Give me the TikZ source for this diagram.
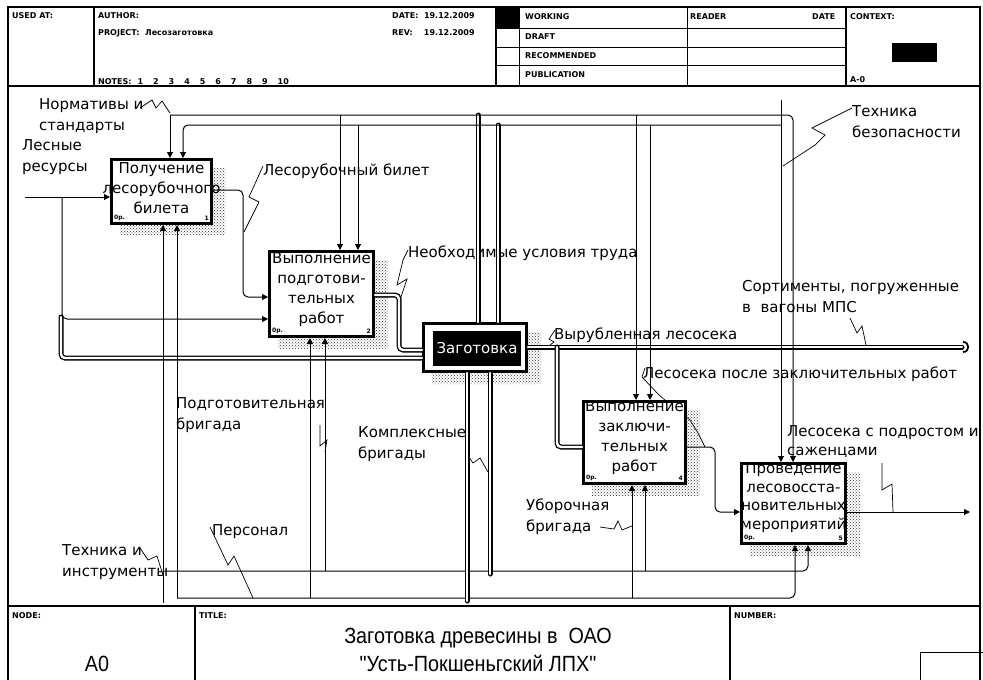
\documentclass[tikz,border=0pt]{standalone}
\usepackage{fontspec}
\setmainfont{DejaVu Sans}
\newfontfamily\titlefont[FakeStretch=0.9]{Liberation Sans}
\usetikzlibrary{arrows.meta,patterns}
\tikzset{
  frameline/.style={line width=1.2pt},
  hdr/.style={font=\fontsize{8}{9}\selectfont\bfseries, inner sep=0pt, anchor=west},
  titletxt/.style={font=\titlefont\fontsize{22}{28}\selectfont, inner sep=0pt, align=center},
  lbl/.style={font=\fontsize{15}{21}\selectfont, inner sep=0pt, anchor=north west, align=left},
  boxtext/.style={font=\fontsize{15}{20}\selectfont, inner sep=0pt, align=center},
  corner/.style={font=\fontsize{6}{7}\selectfont\bfseries, inner sep=4pt},
  actbox/.style={draw, line width=2.6pt, fill=white, inner sep=0pt},
  shadow/.style={pattern=crosshatch dots, pattern color=black!80},
  arr/.style={line width=1pt, -{Triangle[length=6pt,width=6pt]}},
  dbl/.style={double, line width=1.3pt, double distance=2.4pt, line cap=round},
  squig/.style={line width=0.7pt},
}

\begin{document}
\begin{tikzpicture}[x=1pt,y=-1pt]
\useasboundingbox (0,0) rectangle (983,680);
\fill[white] (0,0) rectangle (983,680);

% form frame and header
\draw[frameline] (8,7) rectangle (980,690);
\draw[frameline] (8,86) -- (980,86);
\draw[frameline] (94,7) -- (94,86);
\draw[frameline] (496,7) -- (496,86);
\draw (519,7) -- (519,86);
\draw (687,7) -- (687,86);
\draw[frameline] (846,7) -- (846,86);
\draw (496,28) -- (846,28);
\draw (496,47) -- (846,47);
\draw (496,65) -- (846,65);
\fill (496,7) rectangle (519,28);
\fill (892,43) rectangle (937,62);
\node[hdr] (usedat) at (12,16) {USED AT:};
\node[hdr] (author) at (98,16) {AUTHOR:};
\node[hdr] (project) at (98,33) {PROJECT:\ \ Лесозаготовка};
\node[hdr] (notes) at (98,82) {NOTES:\hspace{6pt}1\hspace{10pt}2\hspace{10pt}3\hspace{10pt}4\hspace{10pt}5\hspace{10pt}6\hspace{10pt}7\hspace{10pt}8\hspace{10pt}9\hspace{10pt}10};
\node[hdr] (date) at (392,16) {DATE:\ \ 19.12.2009};
\node[hdr] (rev) at (392,33) {REV:\ \ \ \ 19.12.2009};
\node[hdr] (working) at (525,17) {WORKING};
\node[hdr] (draft) at (525,37) {DRAFT};
\node[hdr] (recom) at (525,56) {RECOMMENDED};
\node[hdr] (publ) at (525,75) {PUBLICATION};
\node[hdr] (reader) at (690,17) {READER};
\node[hdr] (rdate) at (812,17) {DATE};
\node[hdr] (context) at (850,17) {CONTEXT:};
\node[hdr] (ctxnode) at (850,80) {A-0};

% footer
\draw[frameline] (8,606) -- (980,606);
\draw[frameline] (195,606) -- (195,690);
\draw[frameline] (730,606) -- (730,690);
\draw (920,652) rectangle (990,690);
\node[hdr] (nodehdr) at (12,616) {NODE:};
\node[hdr] (titlehdr) at (199,616) {TITLE:};
\node[hdr] (numhdr) at (734,616) {NUMBER:};
\node[titletxt] (a0) at (97,664) {A0};
\node[titletxt] (title) at (478,650) {Заготовка древесины в\ \ ОАО\\"Усть-Покшеньгский ЛПХ"};

% arrow labels
\node[lbl] (normlbl) at (39,98) {Нормативы и\\стандарты};
\node[lbl] (leslbl) at (22,139) {Лесные\\ресурсы};
\node[lbl] (biletlbl) at (263,164) {Лесорубочный билет};
\node[lbl] (uslbl) at (408,246) {Необходимые условия труда};
\node[lbl] (tblbl) at (852,105) {Техника\\безопасности};
\node[lbl] (sortlbl) at (742,280) {Сортименты, погруженные\\в\ \ вагоны МПС};
\node[lbl] (vyrlbl) at (554,328) {Вырубленная лесосека};
\node[lbl] (poslelbl) at (643,367) {Лесосека после заключительных работ};
\node[lbl, font=\fontsize{15}{19}\selectfont] (podrlbl) at (787,425) {Лесосека с подростом и\\саженцами};
\node[lbl] (podglbl) at (176,397) {Подготовительная\\бригада};
\node[lbl] (komplbl) at (358,426) {Комплексные\\бригады};
\node[lbl] (uborlbl) at (526,499) {Уборочная\\бригада};
\node[lbl] (perslbl) at (212,524) {Персонал};
\node[lbl] (tilbl) at (62,544) {Техника и\\инструменты};

% squiggles
\draw[squig] (140,108) -- (152,100) -- (156,108) -- (162,101) -- (170,113);
\draw[squig] (263,166) -- (249,197) -- (259,202) -- (244,232);
\draw[squig] (408,250) -- (403,260) -- (397,285) -- (407,279) -- (400,300);
\draw[squig] (852,108) -- (812,128) -- (825,135) -- (815,145) -- (783,166);
\draw[squig] (850,318) -- (857,333) -- (862,326) -- (866,345);
\draw[squig] (555,330) -- (549,339) -- (554,342) -- (546,348);
\draw[squig] (645,368) -- (642,377) -- (660,396) -- (690,420) -- (698,433) -- (705,447);
\draw[squig] (882,463) -- (882,490) -- (892,484) -- (893,512);
\draw[squig] (320,425) -- (320,446) -- (327,440) -- (325,452);
\draw[squig] (465,452) -- (473,463) -- (480,458) -- (488,472);
\draw[squig] (600,527) -- (614,529) -- (618,521) -- (622,530) -- (632,526);
\draw[squig] (210,527) -- (228,565) -- (234,556) -- (253,598);
\draw[squig] (140,548) -- (148,560) -- (157,556) -- (163,575);

% shadows
\fill[shadow] (120,225) rectangle (225,235) (213,168) rectangle (225,235);
\fill[shadow] (278,338) rectangle (388,349) (375,260) rectangle (388,349);
\fill[shadow] (432,373) rectangle (541,384) (528,332) rectangle (541,384);
\fill[shadow] (592,485) rectangle (700,496) (687,410) rectangle (700,496);
\fill[shadow] (750,545) rectangle (860,556) (847,472) rectangle (860,556);

% activity boxes
\node[actbox, minimum width=100.4pt, minimum height=64.4pt,
  label={[boxtext, yshift=3pt]center:{Получение\\лесорубочного\\билета}},
  label={[corner, anchor=south west]south west:0р.},
  label={[corner, anchor=south east]south east:1}] (b1) at (161.5,191.5) {};
\node[actbox, minimum width=104.4pt, minimum height=85.4pt,
  label={[boxtext, yshift=4pt]center:{Выполнение\\подготови-\\тельных\\работ}},
  label={[corner, anchor=south west]south west:0р.},
  label={[corner, anchor=south east]south east:2}] (b2) at (321.5,294) {};
\node[actbox, minimum width=103.4pt, minimum height=48.4pt] (b3) at (475,347.5) {};
\node[boxtext, fill=black, text=white, minimum width=88pt, minimum height=35pt] (b3in) at (477,348.5) {Заготовка};
\node[actbox, minimum width=102.4pt, minimum height=82.4pt,
  label={[boxtext, yshift=5pt]center:{Выполнение\\заключи-\\тельных\\работ}},
  label={[corner, anchor=south west]south west:0р.},
  label={[corner, anchor=south east]south east:4}] (b4) at (634.5,442.5) {};
\node[actbox, minimum width=104.4pt, minimum height=80.4pt,
  label={[boxtext, font=\fontsize{15}{18.5}\selectfont, yshift=6pt]center:{Проведение\\лесовосста-\\новительных\\мероприятий}},
  label={[corner, anchor=south west]south west:0р.},
  label={[corner, anchor=south east]south east:5}] (b5) at (793.5,503.5) {};

% inputs and outputs
\coordinate (lesres) at (25,197);
\draw[arr] (lesres) -- (lesres -| b1.west);
\draw[arr, rounded corners=5pt] (62,197) |- (b2.west |- 62,319);
\draw[dbl, rounded corners=4pt] (61,317) |- (b3.west |- 61,358);
\draw[arr, rounded corners=5pt] (b1.east |- 0,190) -- (243,190) |- (b2.west |- 0,297);
\draw[dbl, rounded corners=4pt] (b2.east |- 0,295) -- (399,295) |- (b3.west |- 0,350);
\coordinate (sort) at (962,347);
\draw[dbl] (b3.east |- 0,347) -- (sort);
\draw[line width=1.8pt] (963,342) .. controls (970,342) and (970,352) .. (963,352);
\draw[dbl, rounded corners=4pt] (557,347) |- (b4.west |- 0,447);
\draw[arr, rounded corners=5pt] (b4.east |- 0,447) -- (715,447) |- (b5.west |- 0,512);
\coordinate (lespod) at (970,512);
\draw[arr] (b5.east |- 0,512) -- (lespod);

% controls
\coordinate (norm) at (170,115);
\coordinate (tbez) at (781,100);
\draw[dbl] (478,115) -- (478,115 |- b3.north);
\draw[dbl] (498,125) -- (498,125 |- b3.north);
\draw[arr] (norm) -- (norm |- b1.north);
\draw[arr, rounded corners=5pt] (norm) -| (793,115 |- b5.north);
\draw[arr] (340,115) -- (340,115 |- b2.north);
\draw[arr] (636,115) -- (636,115 |- b4.north);
\draw[arr] (tbez) -- (tbez |- b5.north);
\draw[arr, rounded corners=5pt] (781,125) -| (183,125 |- b1.north);
\draw[arr] (358,125) -- (358,125 |- b2.north);
\draw[arr] (650,125) -- (650,125 |- b4.north);

% mechanisms
\coordinate (tinstr) at (163,603);
\coordinate (pers) at (177,598);
\draw[arr] (tinstr) -- (tinstr |- b1.south);
\draw[arr, rounded corners=5pt] (163,571) -| (808,571 |- b5.south);
\draw[arr] (325,571) -- (325,571 |- b2.south);
\draw[arr] (645,571) -- (645,571 |- b4.south);
\draw[arr] (pers) -- (pers |- b1.south);
\draw[arr, rounded corners=5pt] (pers) -| (795,598 |- b5.south);
\draw[arr] (310,598) -- (310,598 |- b2.south);
\draw[arr] (632,598) -- (632,598 |- b4.south);
\draw[dbl] (467,601) -- (467,601 |- b3.south);
\draw[dbl] (490,574) -- (490,574 |- b3.south);
\end{tikzpicture}
\end{document}
